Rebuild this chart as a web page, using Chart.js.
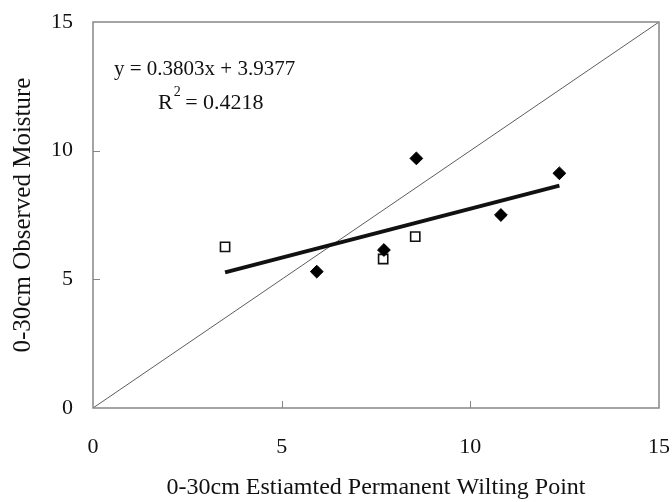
<!DOCTYPE html>
<html>
<head>
<meta charset="utf-8">
<script src="https://cdn.jsdelivr.net/npm/chart.js@4/dist/chart.umd.min.js"></script>
<style>
  html, body { margin: 0; padding: 0; background: #fff; }
  #wrap { width: 672px; height: 502px; }
</style>
</head>
<body>
<div id="wrap"><canvas id="canvas" width="672" height="502"></canvas></div>
<script>
// measured points (estimated permanent wilting point vs observed moisture)
const diamondX = [5.93, 7.71, 8.57, 10.81, 12.36];
const diamondY = [5.30, 6.14, 9.70, 7.50, 9.12];
const squareX = [3.50, 7.69, 8.54];
const squareY = [6.26, 5.79, 6.66];
// fitted trend and 1:1 reference
const slope = 0.3803;
const intercept = 3.9377;
const rSquared = 0.4218;
const axisMin = 0, axisMax = 15, axisStep = 5;

const font = "'Liberation Serif', 'Times New Roman', serif";
const axisColor = '#868686';

let allX = diamondX.concat(squareX);
let xLo = Math.min(...allX), xHi = Math.max(...allX);
let trend = [xLo, xHi].map(x => ({x: x, y: slope * x + intercept}));
let diamonds = diamondX.map((x, i) => ({x: x, y: diamondY[i]}));
let squares = squareX.map((x, i) => ({x: x, y: squareY[i]}));

// box, inward ticks and the equation text
const frame = {
  id: 'frame',
  afterDraw(chart) {
    let ctx = chart.ctx, a = chart.chartArea;
    let xs = chart.scales.x, ys = chart.scales.y;
    ctx.save();
    ctx.strokeStyle = axisColor;
    ctx.lineWidth = 1.5;
    ctx.strokeRect(a.left, a.top, a.right - a.left, a.bottom - a.top);
    ctx.lineWidth = 1;
    for (let v = axisMin + axisStep; v < axisMax; v += axisStep) {
      let px = Math.round(xs.getPixelForValue(v)) + 0.5;
      ctx.beginPath(); ctx.moveTo(px, a.bottom); ctx.lineTo(px, a.bottom - 7); ctx.stroke();
      let py = Math.round(ys.getPixelForValue(v)) + 0.5;
      ctx.beginPath(); ctx.moveTo(a.left, py); ctx.lineTo(a.left + 7, py); ctx.stroke();
    }
    ctx.fillStyle = '#111';
    ctx.textBaseline = 'middle';
    ctx.textAlign = 'left';
    ctx.font = '21px ' + font;
    ctx.fillText('y = ' + slope + 'x + ' + intercept, a.left + 21, a.top + 47);
    let rx = a.left + 65, ry = a.top + 81;
    ctx.font = '22px ' + font;
    ctx.fillText('R', rx, ry);
    let rw = ctx.measureText('R').width;
    ctx.font = '14px ' + font;
    ctx.fillText('2', rx + rw + 1, ry - 11);
    ctx.font = '22px ' + font;
    ctx.fillText(' = ' + rSquared, rx + rw + 7, ry);
    ctx.restore();
  }
};

function axis(title, titleSize, tickPad, titlePad, fit) {
  return {
    type: 'linear',
    min: axisMin,
    max: axisMax,
    afterFit: s => {
      fit(s);
      s.paddingLeft = s.paddingRight = s.paddingTop = s.paddingBottom = 0;
    },
    ticks: { stepSize: axisStep, color: '#111', padding: tickPad, font: { family: font, size: 22 } },
    grid: { drawOnChartArea: false, drawTicks: false },
    border: { display: false },
    title: { display: true, text: title, color: '#111', font: { family: font, size: titleSize }, padding: titlePad }
  };
}

let ctx = document.getElementById('canvas').getContext('2d');
new Chart(ctx, {
  type: 'scatter',
  data: {
    datasets: [
      { data: diamonds, pointStyle: 'rectRot', pointRadius: 6.4, pointBackgroundColor: '#000', pointBorderColor: '#000', pointBorderWidth: 1 },
      { data: squares, pointStyle: 'rect', pointRadius: 6.5, pointBackgroundColor: '#fff', pointBorderColor: '#111', pointBorderWidth: 1.6 },
      { data: trend, showLine: true, borderColor: '#111', borderWidth: 3.8, pointRadius: 0 },
      { data: [{x: axisMin, y: axisMin}, {x: axisMax, y: axisMax}], showLine: true, borderColor: '#333', borderWidth: 0.8, pointRadius: 0 }
    ]
  },
  options: {
    responsive: false,
    animation: false,
    layout: { autoPadding: false, padding: { top: 22, right: 13, left: 0, bottom: 0 } },
    plugins: { legend: { display: false }, tooltip: { enabled: false } },
    scales: {
      x: axis('0-30cm Estiamted Permanent Wilting Point', 24, 26, { top: 0, bottom: 0 }, s => { s.height = 94; }),
      y: axis('0-30cm Observed Moisture', 25, 20, { top: 8, bottom: 8 }, s => { s.width = 93; })
    }
  },
  plugins: [frame]
});
</script>
</body>
</html>
